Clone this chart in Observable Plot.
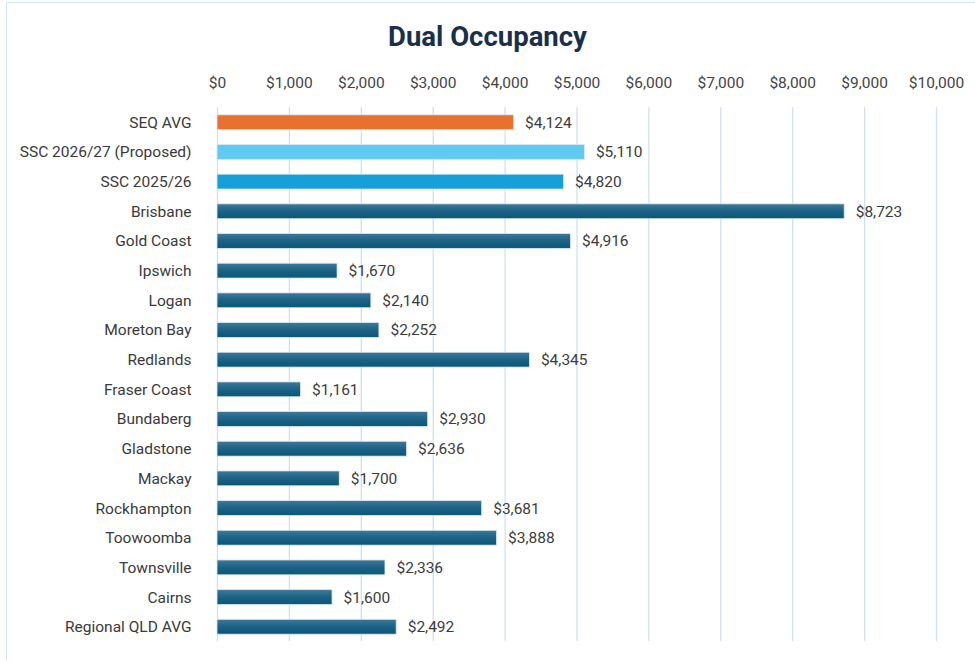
<!DOCTYPE html>
<html>
<head>
<meta charset="utf-8">
<script src="https://cdn.jsdelivr.net/npm/d3@7"></script>
<script src="https://cdn.jsdelivr.net/npm/@observablehq/plot@0.6"></script>
<style>
  html, body { margin: 0; padding: 0; background: #ffffff; width: 975px; height: 663px; overflow: hidden; }
  #frame { position: absolute; left: 6px; top: 2px; width: 975px; height: 658px; border-left: 1px solid #d3e2f4; border-top: 1px solid #d3e2f4; box-sizing: border-box; }
  #title { position: absolute; left: 0; top: 22px; width: 975px; text-align: center; font-family: Roboto, "Noto Sans", sans-serif; font-weight: 700; font-size: 27.5px; line-height: 30px; color: #1b2f4b; }
  #chart { position: absolute; left: 0; top: 60px; }
</style>
</head>
<body>
<div id="frame"></div>
<div id="title">Dual Occupancy</div>
<div id="chart"></div>
<script>
const categories = [
  "SEQ AVG",
  "SSC 2026/27 (Proposed)",
  "SSC 2025/26",
  "Brisbane",
  "Gold Coast",
  "Ipswich",
  "Logan",
  "Moreton Bay",
  "Redlands",
  "Fraser Coast",
  "Bundaberg",
  "Gladstone",
  "Mackay",
  "Rockhampton",
  "Toowoomba",
  "Townsville",
  "Cairns",
  "Regional QLD AVG"
];
const values = [4124, 5110, 4820, 8723, 4916, 1670, 2140, 2252, 4345, 1161, 2930, 2636, 1700, 3681, 3888, 2336, 1600, 2492];
const xTicks = [0, 1000, 2000, 3000, 4000, 5000, 6000, 7000, 8000, 9000, 10000];

const data = categories.map((name, i) => ({name, value: values[i]}));
const fmt = d3.format("$,");

function barFill(d) {
  if (d.name === "SEQ AVG") return "#e87130";
  if (d.name === "SSC 2026/27 (Proposed)") return "#5fcbf2";
  if (d.name === "SSC 2025/26") return "#15a0d9";
  return "url(#darkGrad)";
}

const defs = () => {
  const g = d3.create("svg:defs");
  const lg = g.append("linearGradient").attr("id", "darkGrad").attr("x1", 0).attr("y1", 0).attr("x2", 0).attr("y2", 1);
  lg.append("stop").attr("offset", "0%").attr("stop-color", "#41789a");
  lg.append("stop").attr("offset", "45%").attr("stop-color", "#1d6486");
  lg.append("stop").attr("offset", "100%").attr("stop-color", "#0b5679");
  return g.node();
};

const chart = Plot.plot({
  width: 975,
  height: 603,
  marginLeft: 217,
  marginRight: 39,
  marginTop: 40,
  marginBottom: 14,
  style: { fontFamily: "Roboto, 'Noto Sans', sans-serif", fontSize: "16px", color: "#3c3c3c", background: "transparent" },
  x: { domain: [0, 10000] },
  y: { domain: categories, padding: 0.5, round: false },
  marks: [
    defs,
    Plot.gridX(xTicks, { stroke: "#cfe0f5", strokeOpacity: 1, strokeWidth: 1.3, insetTop: 7, insetBottom: 8 }),
    Plot.axisX({ anchor: "top", ticks: xTicks, tickSize: 0, tickPadding: 13, tickFormat: fmt, label: null, fontSize: 15.5, fill: "#444" }),
    Plot.axisY({ tickSize: 0, tickPadding: 26, label: null, fontSize: 15.5, fill: "#3a3a3a" }),
    Plot.barX(data, { x: "value", y: "name", fill: barFill, stroke: "#d8e8f2", strokeWidth: 0.8 }),
    Plot.text(data, { x: "value", y: "name", text: d => fmt(d.value), dx: 11, textAnchor: "start", fontSize: 15.5, fill: "#3c3c3c" })
  ]
});
document.getElementById("chart").appendChild(chart);
</script>
</body>
</html>
